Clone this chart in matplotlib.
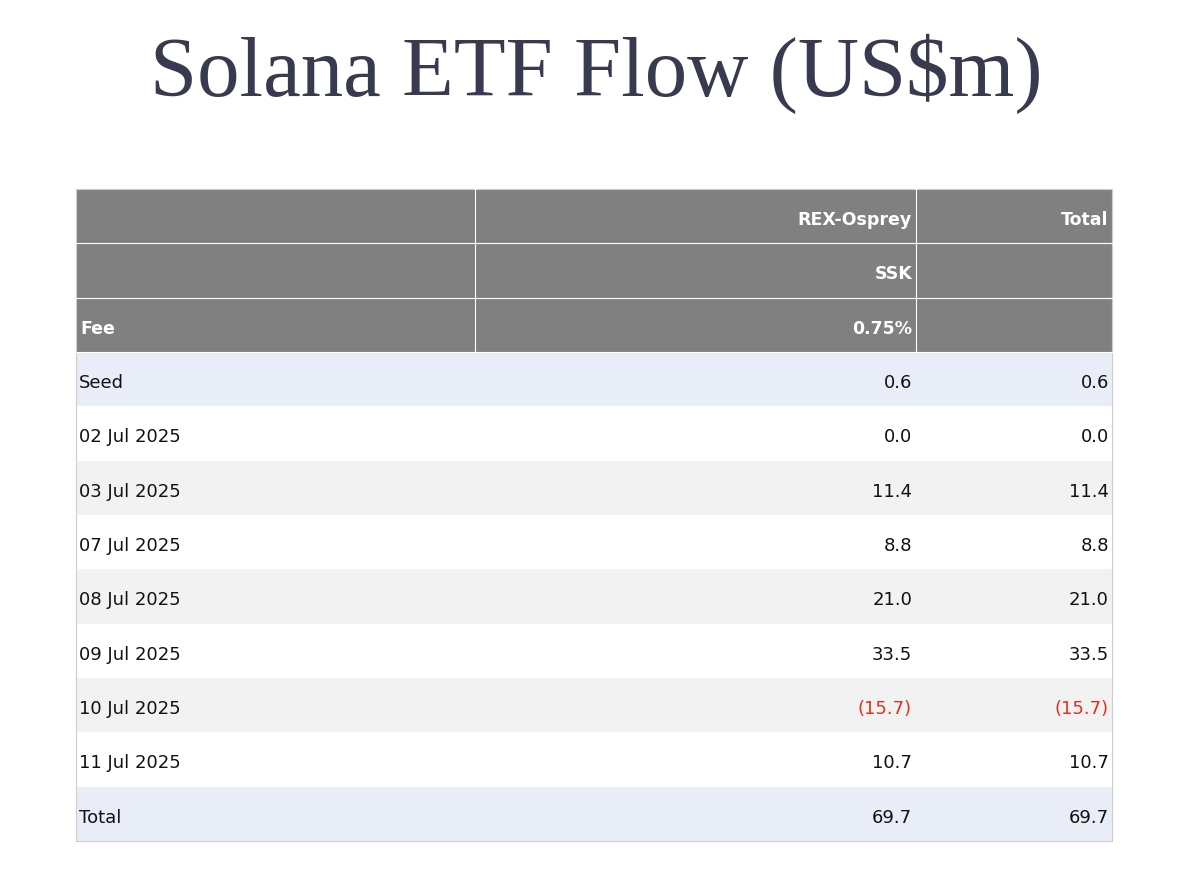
import matplotlib
matplotlib.use("Agg")
import matplotlib.pyplot as plt
from matplotlib.patches import Rectangle

title = "Solana ETF Flow (US$m)"
header_rows = [["", "REX-Osprey", "Total"], ["", "SSK", ""], ["Fee", "0.75%", ""]]
row_labels = ["Seed", "02 Jul 2025", "03 Jul 2025", "07 Jul 2025", "08 Jul 2025",
              "09 Jul 2025", "10 Jul 2025", "11 Jul 2025", "Total"]
ssk = [0.6, 0.0, 11.4, 8.8, 21.0, 33.5, -15.7, 10.7, 69.7]
total = [0.6, 0.0, 11.4, 8.8, 21.0, 33.5, -15.7, 10.7, 69.7]

def fmt(v):
    return f"({abs(v):.1f})" if v < 0 else f"{v:.1f}"

fig = plt.figure(figsize=(12, 8.78), dpi=100)
ax = fig.add_axes([0, 0, 1, 1])
ax.set_xlim(0, 1200); ax.set_ylim(878, 0); ax.axis("off")

ax.text(596, 74, title, ha="center", va="center", fontsize=61,
        family="Liberation Serif", color="#383b4f")

xs = [76, 475, 916, 1112]
top = 190
rh = (842 - 190) / 12
font = "DejaVu Sans"
dy = 3
for i, row in enumerate(header_rows):
    y0 = top + i * rh
    ax.add_patch(Rectangle((76, y0), 1036, rh, color="#808080", lw=0))
    ax.plot([76, 1112], [y0 + rh, y0 + rh], color="white", lw=0.8)
    for j in range(3):
        t = row[j]
        if not t: continue
        if j == 0:
            ax.text(xs[0] + 4, y0 + rh / 2 + dy, t, ha="left", va="center", color="white",
                    fontsize=12.5, fontweight="bold", family=font)
        else:
            ax.text(xs[j + 1] - 4, y0 + rh / 2 + dy, t, ha="right", va="center", color="white",
                    fontsize=12.5, fontweight="bold", family=font)
for x in xs[1:3]:
    ax.plot([x, x], [top, top + 3 * rh], color="white", lw=0.8)

for k, lab in enumerate(row_labels):
    y0 = top + (3 + k) * rh
    if k == 0 or k == len(row_labels) - 1:
        c = "#e9edf7"
    elif k % 2 == 0:
        c = "#f2f2f2"
    else:
        c = "#ffffff"
    ax.add_patch(Rectangle((76, y0), 1036, rh, color=c, lw=0))
    yc = y0 + rh / 2 + dy
    ax.text(79, yc, lab, ha="left", va="center", fontsize=13, family=font, color="#111111")
    for v, x in [(ssk[k], 912), (total[k], 1109)]:
        ax.text(x, yc, fmt(v), ha="right", va="center", fontsize=13, family=font,
                color="#e0301e" if v < 0 else "#111111")

ax.add_patch(Rectangle((76, top), 1036, 842 - top, fill=False, ec="#cccccc", lw=0.8))
fig.savefig("out.png", dpi=100)
